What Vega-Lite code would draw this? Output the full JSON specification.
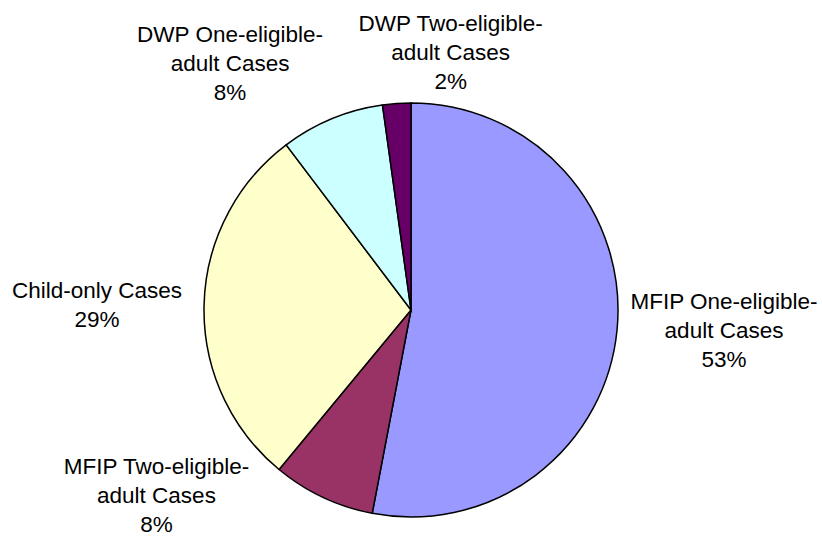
{
  "$schema": "https://vega.github.io/schema/vega-lite/v6.json",
  "width": 822,
  "height": 458,
  "autosize": {"type": "none"},
  "padding": {"top": 81, "left": 0, "right": 0, "bottom": 0},
  "background": "white",
  "config": {"view": {"stroke": null}},
  "data": {
    "values": [
      {"category": "MFIP One-eligible-adult Cases", "share": 53.0, "seq": 1, "label": "MFIP One-eligible-\nadult Cases\n53%"},
      {"category": "MFIP Two-eligible-adult Cases", "share": 8.0, "seq": 2, "label": "MFIP Two-eligible-\nadult Cases\n8%"},
      {"category": "Child-only Cases", "share": 28.7, "seq": 3, "label": "Child-only Cases\n29%"},
      {"category": "DWP One-eligible-adult Cases", "share": 8.1, "seq": 4, "label": "DWP One-eligible-\nadult Cases\n8%"},
      {"category": "DWP Two-eligible-adult Cases", "share": 2.2, "seq": 5, "label": "DWP Two-eligible-\nadult Cases\n2%"}
    ]
  },
  "encoding": {
    "theta": {"field": "share", "type": "quantitative", "stack": true},
    "order": {"field": "seq", "type": "quantitative"},
    "color": {
      "field": "category",
      "type": "nominal",
      "scale": {
        "domain": ["MFIP One-eligible-adult Cases", "MFIP Two-eligible-adult Cases", "Child-only Cases", "DWP One-eligible-adult Cases", "DWP Two-eligible-adult Cases"],
        "range": ["#9999FF", "#993366", "#FFFFCC", "#CCFFFF", "#660066"]
      },
      "legend": null
    }
  },
  "layer": [
    {
      "mark": {"type": "arc", "outerRadius": 207, "stroke": "#000000", "strokeWidth": 1.5}
    },
    {
      "mark": {
        "type": "text",
        "radius": 222,
        "font": "Liberation Sans",
        "fontSize": 22.5,
        "lineHeight": 29,
        "lineBreak": "\n",
        "align": "center",
        "baseline": {"expr": "cos(PI*(datum.share_start+datum.share_end)/100) > 0.3 ? 'bottom' : (cos(PI*(datum.share_start+datum.share_end)/100) < -0.3 ? 'top' : 'middle')"},
        "dx": {"expr": "(sin(PI*(datum.share_start+datum.share_end)/100) > 0.3 ? 92 : (sin(PI*(datum.share_start+datum.share_end)/100) < -0.3 ? -92 : 0)) + (datum.category === 'MFIP Two-eligible-adult Cases' ? -68 : (datum.category === 'DWP Two-eligible-adult Cases' ? 55 : (datum.category === 'DWP One-eligible-adult Cases' ? -4 : 0)))"},
        "dy": {"expr": "(cos(PI*(datum.share_start+datum.share_end)/100) > 0.3 ? -(length(split(datum.label, '\\n')) - 1) * 29 : (cos(PI*(datum.share_start+datum.share_end)/100) < -0.3 ? 0 : -(length(split(datum.label, '\\n')) - 1) * 14.5)) + (datum.category === 'MFIP Two-eligible-adult Cases' ? -55 : (datum.category === 'DWP Two-eligible-adult Cases' ? 5 : 0))"}
      },
      "encoding": {
        "text": {"field": "label", "type": "nominal"},
        "color": {"value": "#000000"}
      }
    }
  ]
}
